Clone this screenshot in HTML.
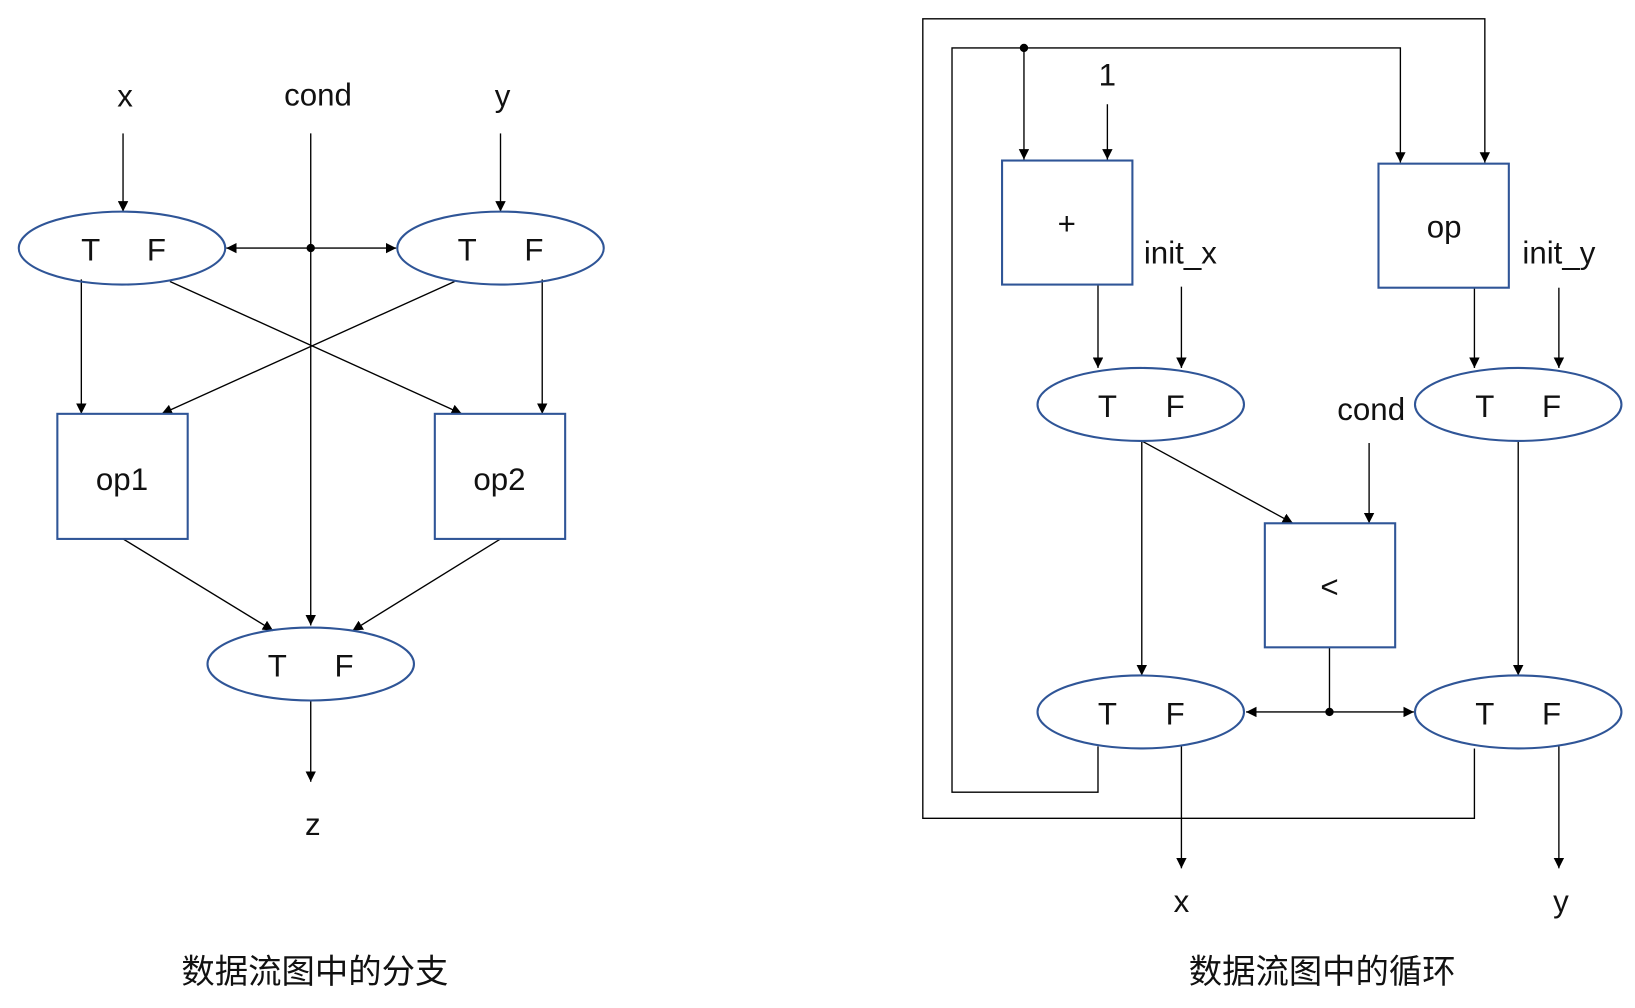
<!DOCTYPE html>
<html><head><meta charset="utf-8"><style>html,body{margin:0;padding:0;background:#fff}svg{display:block}text{font-family:"Liberation Sans","Noto Sans CJK SC",sans-serif;fill:#111}</style></head><body>
<svg width="1635" height="1008" viewBox="0 0 1568 967" preserveAspectRatio="none" xmlns="http://www.w3.org/2000/svg">
<defs><marker id="a" viewBox="0 0 10 10" refX="10" refY="5" markerWidth="10" markerHeight="10" markerUnits="userSpaceOnUse" orient="auto"><path d="M0,0L10,5L0,10z" fill="#000"/></marker></defs>
<g stroke="#000" stroke-width="1.3" fill="none">
<!-- left -->
<line x1="118" y1="128" x2="118" y2="203" marker-end="url(#a)"/>
<line x1="480" y1="128" x2="480" y2="203" marker-end="url(#a)"/>
<line x1="298" y1="128" x2="298" y2="600" marker-end="url(#a)"/>
<line x1="298" y1="238" x2="217" y2="238" marker-end="url(#a)"/>
<line x1="298" y1="238" x2="380" y2="238" marker-end="url(#a)"/>
<line x1="78" y1="268" x2="78" y2="397" marker-end="url(#a)"/>
<line x1="520" y1="268" x2="520" y2="397" marker-end="url(#a)"/>
<line x1="163" y1="270" x2="443" y2="397" marker-end="url(#a)"/>
<line x1="436" y1="270" x2="155" y2="397" marker-end="url(#a)"/>
<line x1="118" y1="517" x2="262" y2="605" marker-end="url(#a)"/>
<line x1="480" y1="517" x2="338" y2="605" marker-end="url(#a)"/>
<line x1="298" y1="672" x2="298" y2="750" marker-end="url(#a)"/>
<!-- right -->
<polyline points="1414,718 1414,785 885,785 885,18 1424,18 1424,156" marker-end="url(#a)"/>
<polyline points="1053,716 1053,760 913,760 913,46 1343,46 1343,156" marker-end="url(#a)"/>
<line x1="982" y1="46" x2="982" y2="153" marker-end="url(#a)"/>
<line x1="1062" y1="100" x2="1062" y2="153" marker-end="url(#a)"/>
<line x1="1053" y1="273" x2="1053" y2="353" marker-end="url(#a)"/>
<line x1="1133" y1="275" x2="1133" y2="353" marker-end="url(#a)"/>
<line x1="1414" y1="276" x2="1414" y2="353" marker-end="url(#a)"/>
<line x1="1495" y1="276" x2="1495" y2="353" marker-end="url(#a)"/>
<line x1="1313" y1="425" x2="1313" y2="502" marker-end="url(#a)"/>
<line x1="1095" y1="423" x2="1095" y2="648" marker-end="url(#a)"/>
<line x1="1095" y1="423" x2="1240" y2="502" marker-end="url(#a)"/>
<line x1="1456" y1="423" x2="1456" y2="648" marker-end="url(#a)"/>
<line x1="1275" y1="621" x2="1275" y2="683"/>
<line x1="1275" y1="683" x2="1195" y2="683" marker-end="url(#a)"/>
<line x1="1275" y1="683" x2="1356" y2="683" marker-end="url(#a)"/>
<line x1="1133" y1="716" x2="1133" y2="833" marker-end="url(#a)"/>
<line x1="1495" y1="716" x2="1495" y2="833" marker-end="url(#a)"/>
</g>
<g fill="#000"><circle cx="298" cy="238" r="4"/><circle cx="982" cy="46" r="4"/><circle cx="1275" cy="683" r="4"/></g>
<g stroke="#2f5597" stroke-width="2" fill="none">
<ellipse cx="117" cy="238" rx="99" ry="35"/><ellipse cx="480" cy="238" rx="99" ry="35"/><ellipse cx="298" cy="637" rx="99" ry="35"/>
<rect x="55" y="397" width="125" height="120"/><rect x="417" y="397" width="125" height="120"/>
<rect x="961" y="154" width="125" height="119"/><rect x="1322" y="157" width="125" height="119"/><rect x="1213" y="502" width="125" height="119"/>
<ellipse cx="1094" cy="388" rx="99" ry="35"/><ellipse cx="1456" cy="388" rx="99" ry="35"/>
<ellipse cx="1094" cy="683" rx="99" ry="35"/><ellipse cx="1456" cy="683" rx="99" ry="35"/>
</g>
<g font-size="30" text-anchor="middle">
<text x="120" y="102">x</text><text x="305" y="101">cond</text><text x="482" y="102">y</text>
<text x="87" y="250">T</text><text x="150" y="250">F</text>
<text x="448" y="250">T</text><text x="512" y="250">F</text>
<text x="266" y="649">T</text><text x="330" y="649">F</text>
<text x="117" y="470">op1</text><text x="479" y="470">op2</text>
<text x="300" y="801">z</text>
<text x="1062" y="82">1</text>
<text x="1023" y="225">+</text><text x="1385" y="228">op</text>
<text x="1132" y="253">init_x</text><text x="1495" y="253">init_y</text>
<text x="1062" y="400">T</text><text x="1127" y="400">F</text>
<text x="1424" y="400">T</text><text x="1488" y="400">F</text>
<text x="1315" y="403">cond</text>
<text x="1275" y="573">&lt;</text>
<text x="1062" y="695">T</text><text x="1127" y="695">F</text>
<text x="1424" y="695">T</text><text x="1488" y="695">F</text>
<text x="1133" y="875">x</text><text x="1497" y="875">y</text>
</g>
<g font-size="32" text-anchor="middle">
<text x="302" y="943">数据流图中的分支</text><text x="1268" y="943">数据流图中的循环</text>
</g>
</svg>
</body></html>
